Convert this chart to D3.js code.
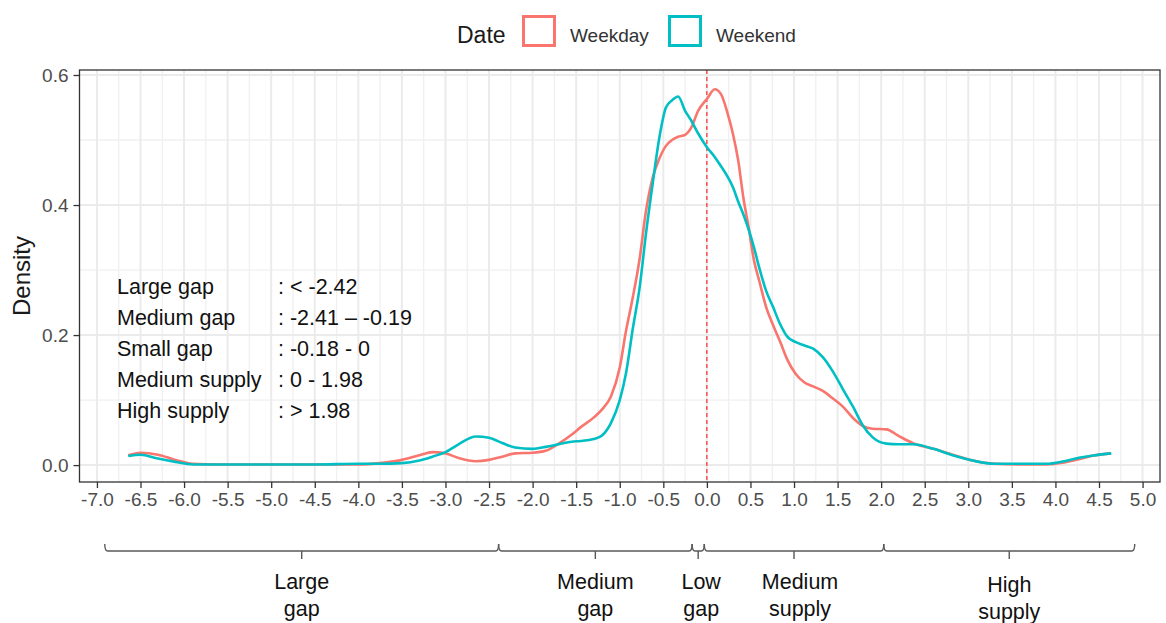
<!DOCTYPE html>
<html><head><meta charset="utf-8">
<script src="https://cdn.jsdelivr.net/npm/d3@7"></script>
<style>
body{margin:0;background:#fff;}
svg{display:block;font-family:"Liberation Sans",Arial,sans-serif;}
</style>
</head><body><svg id="c" width="1166" height="623"></svg>
<script>
// ---------------- data ----------------
const xs = [-6.64,-6.5,-6.3,-6.1,-5.9,-5.6,-5.0,-4.5,-4.0,-3.75,-3.5,-3.3,-3.15,-3.0,-2.85,-2.65,-2.5,-2.35,-2.2,-2.0,-1.85,-1.7,-1.55,-1.45,-1.3,-1.2,-1.1,-1.0,-0.93,-0.85,-0.77,-0.7,-0.62,-0.55,-0.47,-0.4,-0.33,-0.25,-0.18,-0.1,0,0.09,0.16,0.24,0.3,0.36,0.42,0.48,0.54,0.6,0.68,0.76,0.84,0.92,1.02,1.12,1.22,1.33,1.45,1.56,1.68,1.79,1.9,2.06,2.2,2.36,2.6,2.82,3.05,3.3,3.6,3.9,4.1,4.3,4.45,4.64];
const weekday = [0.015,0.019,0.016,0.008,0.002,0.001,0.001,0.001,0.001,0.003,0.008,0.015,0.020,0.018,0.011,0.006,0.008,0.013,0.018,0.019,0.022,0.033,0.047,0.058,0.073,0.086,0.106,0.150,0.205,0.258,0.319,0.390,0.443,0.470,0.491,0.500,0.505,0.508,0.519,0.545,0.563,0.578,0.571,0.540,0.509,0.468,0.410,0.365,0.315,0.284,0.243,0.215,0.190,0.163,0.140,0.127,0.121,0.114,0.102,0.090,0.072,0.060,0.056,0.055,0.045,0.034,0.025,0.016,0.007,0.002,0.001,0.001,0.004,0.010,0.015,0.018];
const weekend = [0.014,0.016,0.010,0.005,0.001,0.001,0.001,0.001,0.002,0.002,0.003,0.007,0.013,0.020,0.032,0.044,0.042,0.034,0.027,0.025,0.028,0.032,0.036,0.037,0.040,0.046,0.065,0.100,0.140,0.210,0.275,0.355,0.435,0.500,0.550,0.561,0.567,0.545,0.530,0.510,0.489,0.474,0.460,0.443,0.427,0.405,0.385,0.362,0.335,0.304,0.268,0.243,0.217,0.198,0.189,0.184,0.179,0.166,0.143,0.117,0.089,0.061,0.043,0.033,0.032,0.032,0.025,0.015,0.007,0.002,0.002,0.002,0.006,0.012,0.015,0.018];
const seriesNames = ["Weekday", "Weekend"];
const seriesColors = ["#F8766D", "#00BFC4"];
const legendTitle = "Date";
const yTitle = "Density";
const xTickValues = [-7.0,-6.5,-6.0,-5.5,-5.0,-4.5,-4.0,-3.5,-3.0,-2.5,-2.0,-1.5,-1.0,-0.5,0.0,0.5,1.0,1.5,2.0,2.5,3.0,3.5,4.0,4.5,5.0];
const yTickValues = [0.0, 0.2, 0.4, 0.6];
const noteNames = ["Large gap", "Medium gap", "Small gap", "Medium supply", "High supply"];
const noteRanges = [": < -2.42", ": -2.41 \u2013 -0.19", ": -0.18 - 0", ": 0 - 1.98", ": > 1.98"];
const bracketBreaks = [-6.91, -2.39, -0.17, -0.03, 2.03, 4.91];
const bracketLabels = [["Large","gap"],["Medium","gap"],["Low","gap"],["Medium","supply"],["High","supply"]];

// ---------------- layout ----------------
const svg = d3.select("#c");
const P = {l: 79.5, r: 1160, t: 70, b: 482};
const x = d3.scaleLinear().domain([-7.2, 5.2]).range([P.l, P.r]);
const y = d3.scaleLinear().domain([-0.026, 0.6077]).range([P.b, P.t]);

// grid
const minorX = xTickValues.slice(0, -1).map((v, i) => (v + xTickValues[i + 1]) / 2);
const minorY = yTickValues.slice(0, -1).map((v, i) => (v + yTickValues[i + 1]) / 2);
const g = svg.append("g");
g.selectAll(".mx").data(minorX).join("line")
  .attr("x1", d => x(d)).attr("x2", d => x(d)).attr("y1", P.t).attr("y2", P.b)
  .attr("stroke", "#F0F0F0").attr("stroke-width", 1.3);
g.selectAll(".my").data(minorY).join("line")
  .attr("y1", d => y(d)).attr("y2", d => y(d)).attr("x1", P.l).attr("x2", P.r)
  .attr("stroke", "#F0F0F0").attr("stroke-width", 1.3);
g.selectAll(".Mx").data(xTickValues.filter(v => x(v) > P.l && x(v) < P.r)).join("line")
  .attr("x1", d => x(d)).attr("x2", d => x(d)).attr("y1", P.t).attr("y2", P.b)
  .attr("stroke", "#EBEBEB").attr("stroke-width", 2);
g.selectAll(".My").data(yTickValues).join("line")
  .attr("y1", d => y(d)).attr("y2", d => y(d)).attr("x1", P.l).attr("x2", P.r)
  .attr("stroke", "#EBEBEB").attr("stroke-width", 2);

// vertical dashed line at 0
svg.append("line").attr("x1", x(0)).attr("x2", x(0)).attr("y1", P.t).attr("y2", P.b)
  .attr("stroke", "#FF0000").attr("stroke-width", 1).attr("stroke-dasharray", "4,3");

// curves
const line = d3.line().x(d => x(d[0])).y(d => y(d[1])).curve(d3.curveMonotoneX);
[weekday, weekend].forEach((vals, i) => {
  svg.append("path").datum(xs.map((v, j) => [v, vals[j]]))
    .attr("d", line).attr("fill", "none")
    .attr("stroke", seriesColors[i]).attr("stroke-width", 2.6)
    .attr("stroke-linejoin", "round");
});

// panel border
svg.append("rect").attr("x", P.l).attr("y", P.t).attr("width", P.r - P.l).attr("height", P.b - P.t)
  .attr("fill", "none").attr("stroke", "#333333").attr("stroke-width", 1.3);

// axes
const xAxis = d3.axisBottom(x).tickValues(xTickValues).tickFormat(d => d.toFixed(1)).tickSize(6).tickPadding(5);
const gx = svg.append("g").attr("transform", `translate(0,${P.b})`).call(xAxis);
gx.select(".domain").remove();
gx.selectAll(".tick line").attr("stroke", "#333333").attr("stroke-width", 1.3);
gx.selectAll(".tick text").attr("fill", "#4D4D4D").attr("font-size", 19).attr("font-family", "Liberation Sans, Arial, sans-serif");

const yAxis = d3.axisLeft(y).tickValues(yTickValues).tickFormat(d => d.toFixed(1)).tickSize(6).tickPadding(5);
const gy = svg.append("g").attr("transform", `translate(${P.l},0)`).call(yAxis);
gy.select(".domain").remove();
gy.selectAll(".tick line").attr("stroke", "#333333").attr("stroke-width", 1.3);
gy.selectAll(".tick text").attr("fill", "#4D4D4D").attr("font-size", 19).attr("font-family", "Liberation Sans, Arial, sans-serif");

svg.append("text").attr("transform", `translate(30,${(P.t + P.b) / 2}) rotate(-90)`)
  .attr("text-anchor", "middle").attr("font-size", 24).attr("fill", "#1A1A1A").text(yTitle);

// legend
svg.append("text").attr("x", 457).attr("y", 35).attr("dominant-baseline", "central")
  .attr("font-size", 23).attr("fill", "#1A1A1A").text(legendTitle);
const legX = [522, 668];
seriesNames.forEach((n, i) => {
  svg.append("rect").attr("x", legX[i] + 1.5).attr("y", 16.5).attr("width", 31).attr("height", 29)
    .attr("fill", "#fff").attr("stroke", seriesColors[i]).attr("stroke-width", 3);
  svg.append("text").attr("x", legX[i] + 48).attr("y", 35).attr("dominant-baseline", "central")
    .attr("font-size", 19).attr("fill", "#333333").text(n);
});

// notes
noteNames.forEach((n, i) => {
  const yy = 287 + i * 31;
  svg.append("text").attr("x", 117).attr("y", yy).attr("dominant-baseline", "central")
    .attr("font-size", 21.5).attr("fill", "#111").text(n);
  svg.append("text").attr("x", 278).attr("y", yy).attr("dominant-baseline", "central")
    .attr("font-size", 21.5).attr("fill", "#111").text(noteRanges[i]);
});

// brackets
const bY = 551, upH = 7, dnH = 8;
for (let i = 0; i < bracketLabels.length; i++) {
  const a = x(bracketBreaks[i]), b = x(bracketBreaks[i + 1]), m = (a + b) / 2;
  const p = d3.path();
  p.moveTo(a, bY - upH); p.quadraticCurveTo(a, bY, a + 3, bY);
  p.lineTo(b - 3, bY); p.quadraticCurveTo(b, bY, b, bY - upH);
  p.moveTo(m, bY); p.lineTo(m, bY + dnH);
  svg.append("path").attr("d", p.toString()).attr("fill", "none")
    .attr("stroke", "#595959").attr("stroke-width", 1.4);
  const dy = i === 4 ? 3 : 0;
  bracketLabels[i].forEach((t, k) => {
    svg.append("text").attr("x", m + (i === 3 ? 6 : (i === 2 ? 3 : 0))).attr("y", 589 + dy + k * 27)
      .attr("text-anchor", "middle").attr("font-size", 21.5).attr("fill", "#111").text(t);
  });
}
</script>
</body></html>
